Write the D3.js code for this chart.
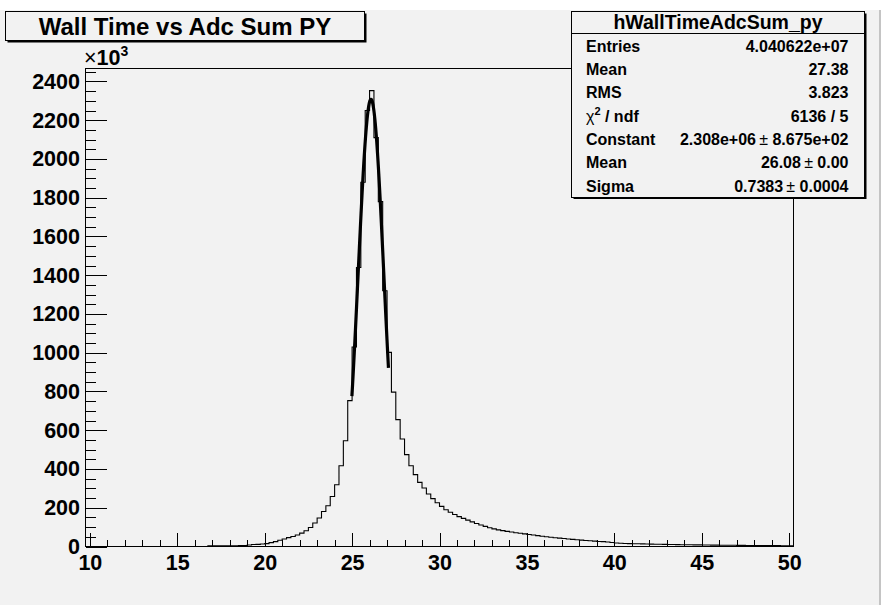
<!DOCTYPE html>
<html>
<head>
<meta charset="utf-8">
<script src="https://cdn.jsdelivr.net/npm/d3@7/dist/d3.min.js"></script>
<style>
  html, body { margin: 0; padding: 0; background: #ffffff; }
  svg { display: block; }
  text { font-family: "Liberation Sans", Arial, Helvetica, sans-serif; }
</style>
</head>
<body>
<svg id="chart" width="884" height="605"></svg>
<script>
// Histogram binning: 162 bins of width 0.25 starting at 9.75
const binLow = 9.75;
const binWidth = 0.25;

// Bin contents in thousands of entries (axis is labelled x10^3)
const counts = [
  // 9.75 .. 16.5
  0, 0, 0, 0, 0, 0, 0, 0, 0, 0, 0, 0, 0, 0,
  0, 0, 0, 0, 0, 0, 0, 0, 0, 0, 0, 0, 0, 0,
  // 16.75 .. 19.75
  3, 3, 3, 3.5, 3.5, 4, 4, 4.5, 5, 8, 10, 11, 13,
  // 20.0 .. 24.75
  15, 20, 25, 32, 39, 46, 52, 59, 69, 81,
  98, 121, 147, 181, 210, 258, 319, 417, 546, 753,
  // 25.0 .. 26.75
  1030, 1440, 1880, 2250, 2353, 2110, 1780, 1320,
  // 27.0 .. 40.0
  1002, 797, 655, 555, 474, 417, 371, 331, 302, 271,
  247, 226, 207, 190, 177, 165, 154, 145, 136, 127,
  119, 111, 104, 97, 91, 86, 82, 78, 75, 71,
  68, 65, 62, 59, 56, 53, 50, 48, 45, 43,
  41, 39, 37, 35, 33, 31, 30, 28, 26, 25,
  23, 21, 18,
  // 40.25 .. 45.0
  16.5, 15.5, 15, 14.5, 14, 13.5, 13, 12.5, 12, 11.5,
  11, 10.5, 10, 9.7, 9.4, 9.1, 8.8, 8.5, 8.2, 7.9,
  // 45.25 .. 50.0
  7.6, 7.3, 7.0, 6.8, 6.5, 6.3, 6.1, 5.9, 5.7, 5.5,
  5.3, 5.1, 4.9, 4.7, 4.6, 4.4, 4.3, 4.1, 4.0, 3.9
];

// Axis ticks
const xMajorTicks = [10, 15, 20, 25, 30, 35, 40, 45, 50];
const xMinorTicks = d3.range(10, 51, 1);
const yMajorTicks = [0, 200, 400, 600, 800, 1000, 1200, 1400, 1600, 1800, 2000, 2200, 2400];
const yMinorTicks = d3.range(0, 2451, 50);

// Gaussian fit result
const fitConstant = 2308;   // x10^3
const fitMean = 26.08;
const fitSigma = 0.7383;
const fitRange = [24.99, 27.08];

// Text
const titleText = "Wall Time vs Adc Sum PY";
const statsTitle = "hWallTimeAdcSum_py";
const statsRows = [
  { label: "Entries", value: "4.040622e+07" },
  { label: "Mean", value: "27.38" },
  { label: "RMS", value: "3.823" },
  { label: "chi", value: "6136 / 5" },
  { label: "Constant", value: ["2.308e+06", "8.675e+02"] },
  { label: "Mean", value: ["26.08", "0.00"] },
  { label: "Sigma", value: ["0.7383", "0.0004"] }
];

const svg = d3.select("#chart");
const bg = "#f2f2f2";

// Canvas background
svg.append("rect").attr("x", 0).attr("y", 0).attr("width", 884).attr("height", 605).attr("fill", bg);
svg.append("rect").attr("x", 0).attr("y", 0).attr("width", 884).attr("height", 10).attr("fill", "#ffffff");
svg.append("rect").attr("x", 879).attr("y", 10).attr("width", 2).attr("height", 595).attr("fill", "#c4c4c4");
svg.append("rect").attr("x", 881).attr("y", 10).attr("width", 3).attr("height", 595).attr("fill", "#ffffff");

// Frame geometry
const L = 85.5, R = 793.5, T = 68.5, B = 546.5;

const x = d3.scaleLinear().domain([binLow, binLow + binWidth * counts.length]).range([L, R]);
const y = d3.scaleLinear().domain([0, 2467]).range([B, T]);

// Histogram outline as a staircase
const stepPts = [];
counts.forEach((c, i) => {
  const x0 = binLow + i * binWidth;
  stepPts.push([x0, c]);
  stepPts.push([x0 + binWidth, c]);
});
const histLine = d3.line().x(d => x(d[0])).y(d => y(d[1]));
svg.append("path")
  .attr("d", histLine(stepPts))
  .attr("fill", "none")
  .attr("stroke", "#000")
  .attr("stroke-width", 1.1);

// Fitted Gaussian
const fitPts = d3.range(0, 201).map(k => {
  const xv = fitRange[0] + (fitRange[1] - fitRange[0]) * k / 200;
  const z = (xv - fitMean) / fitSigma;
  return [xv, fitConstant * Math.exp(-0.5 * z * z)];
});
svg.append("path")
  .attr("d", d3.line().x(d => x(d[0])).y(d => y(d[1]))(fitPts))
  .attr("fill", "none")
  .attr("stroke", "#000")
  .attr("stroke-width", 3.2)
  .attr("stroke-linejoin", "round");

// Frame
svg.append("rect")
  .attr("x", L).attr("y", T).attr("width", R - L).attr("height", B - T)
  .attr("fill", "none").attr("stroke", "#000").attr("stroke-width", 1)
  .attr("shape-rendering", "crispEdges");

const labelFont = 21.5;

// X axis
const gx = svg.append("g").attr("transform", `translate(0,${B})`);
gx.call(d3.axisBottom(x).tickValues(xMinorTicks).tickSize(-7).tickFormat(""));
gx.call(g => g.select(".domain").remove());
const gxMaj = svg.append("g").attr("transform", `translate(0,${B})`);
gxMaj.call(d3.axisBottom(x).tickValues(xMajorTicks).tickSize(-14).tickPadding(8.5).tickFormat(d3.format("d")));
gxMaj.select(".domain").remove();

// Y axis
const gy = svg.append("g").attr("transform", `translate(${L},0)`);
gy.call(d3.axisLeft(y).tickValues(yMinorTicks).tickSize(-10.5).tickFormat(""));
gy.select(".domain").remove();
const gyMaj = svg.append("g").attr("transform", `translate(${L},0)`);
gyMaj.call(d3.axisLeft(y).tickValues(yMajorTicks).tickSize(-21).tickPadding(5.5).tickFormat(d3.format("d")));
gyMaj.select(".domain").remove();

svg.selectAll(".tick line").attr("stroke", "#000").attr("shape-rendering", "crispEdges");
svg.selectAll(".tick text")
  .attr("fill", "#000")
  .style("font-family", "'Liberation Sans', Arial, sans-serif")
  .style("font-size", labelFont + "px")
  .style("font-weight", "bold");

// Exponent marker above the y axis
const expo = svg.append("text").attr("x", 84).attr("y", 65).attr("fill", "#000")
  .style("font-size", labelFont + "px");
expo.append("tspan").text("\u00d7").style("font-weight", "normal");
expo.append("tspan").text("10").style("font-weight", "bold");
expo.append("tspan").text("3").attr("dy", -9).style("font-size", "14px").style("font-weight", "bold");

// Title box
function shadowBox(x0, y0, w, h) {
  svg.append("rect").attr("x", x0 + 2).attr("y", y0 + 2).attr("width", w).attr("height", h).attr("fill", "#000");
  svg.append("rect").attr("x", x0).attr("y", y0).attr("width", w).attr("height", h)
    .attr("fill", bg).attr("stroke", "#000").attr("stroke-width", 1).attr("shape-rendering", "crispEdges");
}
shadowBox(5.5, 11.5, 359, 29);
svg.append("text").attr("x", 185).attr("y", 35).attr("text-anchor", "middle")
  .style("font-size", "24px").style("font-weight", "bold").attr("fill", "#000")
  .text(titleText);

// Statistics box
const sx0 = 571.5, sy0 = 11.5, sw = 293, sh = 185.5;
shadowBox(sx0, sy0, sw, sh);
svg.append("line").attr("x1", sx0).attr("x2", sx0 + sw).attr("y1", 33.5).attr("y2", 33.5)
  .attr("stroke", "#000").attr("shape-rendering", "crispEdges");
svg.append("text").attr("x", sx0 + sw / 2).attr("y", 28.5).attr("text-anchor", "middle")
  .style("font-size", "19.5px").style("font-weight", "bold").attr("fill", "#000")
  .text(statsTitle);

const rowFont = 16;
statsRows.forEach((r, i) => {
  const by = 51.7 + i * 23.33;
  const lt = svg.append("text").attr("x", 586).attr("y", by).attr("fill", "#000")
    .style("font-size", rowFont + "px").style("font-weight", "bold");
  if (r.label === "chi") {
    lt.append("tspan").text("\u03c7").style("font-weight", "normal");
    lt.append("tspan").text("2").attr("dy", -7).style("font-size", "11px");
    lt.append("tspan").text(" / ndf").attr("dy", 7);
  } else {
    lt.text(r.label);
  }
  const vt = svg.append("text").attr("x", 848.5).attr("y", by).attr("text-anchor", "end").attr("fill", "#000")
    .style("font-size", rowFont + "px").style("font-weight", "bold");
  if (Array.isArray(r.value)) {
    vt.append("tspan").text(r.value[0]);
    vt.append("tspan").text("\u2009\u00b1 ").style("font-weight", "normal");
    vt.append("tspan").text(r.value[1]);
  } else {
    vt.text(r.value);
  }
});
</script>
</body>
</html>
